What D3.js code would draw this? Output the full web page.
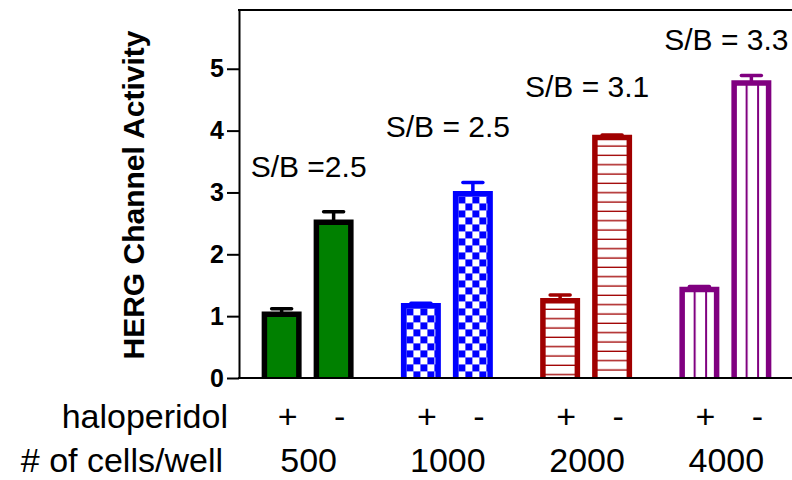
<!DOCTYPE html>
<html>
<head>
<meta charset="utf-8">
<script src="https://cdn.jsdelivr.net/npm/d3@7"></script>
<style>
  html, body { margin: 0; padding: 0; background: #fff; }
  svg { display: block; font-family: "Liberation Sans", Arial, sans-serif; }
</style>
</head>
<body>
<script>
// ---------- data ----------
const cells = ["500", "1000", "2000", "4000"];
const treatments = ["+", "-"];
const activityPlus = [1.03, 1.17, 1.25, 1.43];
const activityMinus = [2.52, 2.98, 3.89, 4.77];
const errorPlus = [0.09, 0.04, 0.09, 0.05];
const errorMinus = [0.17, 0.18, 0.04, 0.12];
const sbLabels = ["S/B =2.5", "S/B = 2.5", "S/B = 3.1", "S/B = 3.3"];
const sbLabelValue = [3.25, 3.90, 4.55, 5.31];
const yTicks = [0, 1, 2, 3, 4, 5];
const yMax = 5.95;
const rowLabels = ["haloperidol", "# of cells/well"];
const yTitle = "HERG Channel Activity";

// ---------- styles ----------
const groupColors = ["#000000", "#0000FF", "#A00000", "#800080"];
const groupFills = ["#008000", "checker", "hlines", "vlines"];
const W = 792, H = 480;

const svg = d3.select("body").append("svg").attr("width", W).attr("height", H);
const defs = svg.append("defs");

const x0 = d3.scaleBand().domain(cells).range([238, 795]).padding(0);
const x1 = d3.scaleBand().domain(treatments).range([0, x0.bandwidth()])
  .paddingInner(0.337).paddingOuter(0.508);
const y = d3.scaleLinear().domain([0, yMax]).range([378, 10]);

const bars = [];
cells.forEach((c, gi) => {
  treatments.forEach((t, ti) => {
    const v = t === "+" ? activityPlus[gi] : activityMinus[gi];
    const e = t === "+" ? errorPlus[gi] : errorMinus[gi];
    bars.push({cell: c, gi, t, v, e, id: "pat" + gi + "_" + ti});
  });
});

// patterns (one per bar, anchored to the bar)
bars.forEach(b => {
  const xl = x0(b.cell) + x1(b.t);
  const yt = y(b.v);
  const col = groupColors[b.gi];
  const kind = groupFills[b.gi];
  if (kind === "checker") {
    const p = defs.append("pattern").attr("id", b.id).attr("patternUnits", "userSpaceOnUse")
      .attr("x", xl + 2.75).attr("y", yt + 2.75).attr("width", 14).attr("height", 14);
    p.append("rect").attr("width", 14).attr("height", 14).attr("fill", "#fff");
    p.append("rect").attr("width", 7).attr("height", 7).attr("fill", col);
    p.append("rect").attr("x", 7).attr("y", 7).attr("width", 7).attr("height", 7).attr("fill", col);
  } else if (kind === "hlines") {
    const p = defs.append("pattern").attr("id", b.id).attr("patternUnits", "userSpaceOnUse")
      .attr("x", xl).attr("y", yt).attr("width", 20).attr("height", 9.33);
    p.append("rect").attr("width", 20).attr("height", 9.33).attr("fill", "#fff");
    p.append("rect").attr("y", 8).attr("width", 20).attr("height", 1.6).attr("fill", col);
  } else if (kind === "vlines") {
    const step = x1.bandwidth() / 3;
    const p = defs.append("pattern").attr("id", b.id).attr("patternUnits", "userSpaceOnUse")
      .attr("x", xl).attr("y", 0).attr("width", step).attr("height", 20);
    p.append("rect").attr("width", step).attr("height", 20).attr("fill", "#fff");
    p.append("rect").attr("x", 0).attr("width", 2).attr("height", 20).attr("fill", col);
  }
});

// bars (open at bottom)
const bw = x1.bandwidth();
svg.append("g").selectAll("path.bar").data(bars).join("path")
  .attr("class", "bar")
  .attr("d", b => {
    const xl = x0(b.cell) + x1(b.t), xr = xl + bw;
    return `M${xl},${y(0)}L${xl},${y(b.v)}L${xr},${y(b.v)}L${xr},${y(0)}`;
  })
  .attr("fill", b => groupFills[b.gi].startsWith("#") ? groupFills[b.gi] : `url(#${b.id})`)
  .attr("stroke", b => groupColors[b.gi])
  .attr("stroke-width", 5.5)
  .attr("stroke-linejoin", "miter");

// error bars
const eg = svg.append("g");
bars.forEach(b => {
  const cx = x0(b.cell) + x1(b.t) + bw / 2;
  const col = groupColors[b.gi];
  eg.append("line").attr("x1", cx).attr("x2", cx).attr("y1", y(b.v)).attr("y2", y(b.v + b.e))
    .attr("stroke", col).attr("stroke-width", 3.5);
  eg.append("line").attr("x1", cx - 10).attr("x2", cx + 10).attr("y1", y(b.v + b.e)).attr("y2", y(b.v + b.e))
    .attr("stroke", col).attr("stroke-width", 3.5).attr("stroke-linecap", "round");
});

// axes
const yAxis = svg.append("g").attr("transform", "translate(239,0)")
  .call(d3.axisLeft(y).tickValues(yTicks).tickSize(12).tickPadding(3).tickSizeOuter(0).tickFormat(d3.format("d")));
yAxis.select(".domain").attr("stroke", "#000").attr("stroke-width", 2);
yAxis.selectAll(".tick line").attr("stroke", "#000").attr("stroke-width", 2);
yAxis.selectAll(".tick text").attr("fill", "#000").style("font-size", "25px").style("font-weight", "bold")
  .style("font-family", "'Liberation Sans', Arial, sans-serif");

svg.append("line").attr("x1", 238).attr("x2", W).attr("y1", y(yMax)).attr("y2", y(yMax))
  .attr("stroke", "#000").attr("stroke-width", 2);
svg.append("line").attr("x1", 238).attr("x2", W).attr("y1", y(0)).attr("y2", y(0))
  .attr("stroke", "#000").attr("stroke-width", 2);

// y title
svg.append("text").attr("transform", `translate(144,${(y(0) + y(yMax)) / 2 + 1}) rotate(-90)`)
  .attr("text-anchor", "middle").style("font-size", "30px").style("font-weight", "bold")
  .text(yTitle);

// S/B annotations
svg.append("g").selectAll("text").data(sbLabels).join("text")
  .attr("x", (d, i) => x0(cells[i]) + x0.bandwidth() / 2 + 1)
  .attr("y", (d, i) => y(sbLabelValue[i]))
  .attr("text-anchor", "middle").style("font-size", "30px")
  .text(d => d);

// bottom rows
svg.append("text").attr("x", 228).attr("y", 428).attr("text-anchor", "end")
  .style("font-size", "34px").text(rowLabels[0]);
svg.append("text").attr("x", 223).attr("y", 472).attr("text-anchor", "end")
  .style("font-size", "34px").text(rowLabels[1]);

svg.append("g").selectAll("text").data(bars).join("text")
  .attr("x", b => x0(b.cell) + x1(b.t) + bw / 2 + 6)
  .attr("y", 428).attr("text-anchor", "middle").style("font-size", "34px")
  .text(b => b.t);

svg.append("g").selectAll("text").data(cells).join("text")
  .attr("x", c => x0(c) + x0.bandwidth() / 2 + 1)
  .attr("y", 472).attr("text-anchor", "middle").style("font-size", "34px")
  .text(c => c);
</script>
</body>
</html>
